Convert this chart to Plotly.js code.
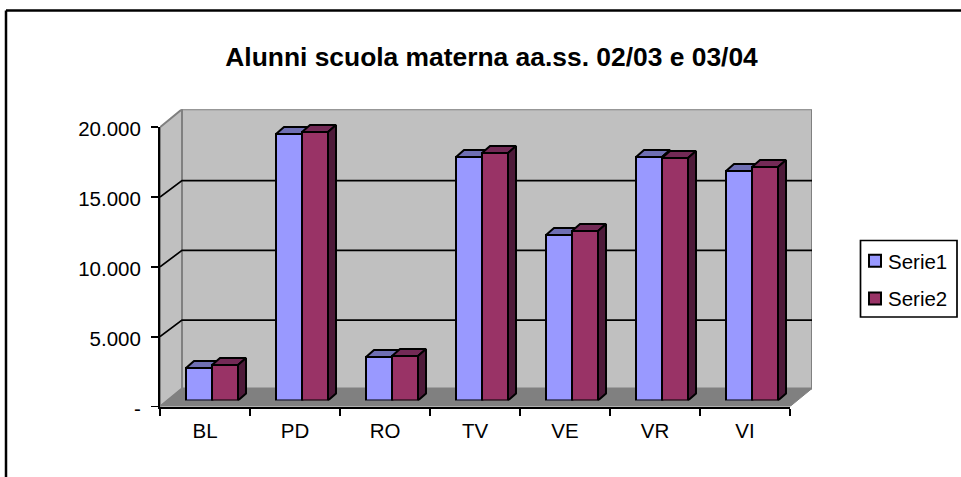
<!DOCTYPE html>
<html><head><meta charset="utf-8">
<script src="https://cdn.plot.ly/plotly-3.0.1.min.js"></script>
<style>html,body{margin:0;padding:0;background:#fff;overflow:hidden}</style>
</head><body><div id="chart" style="width:961px;height:477px"></div>
<script>
const categories = ['BL','PD','RO','TV','VE','VR','VI'];
const serie1 = [2330,19080,3115,17440,11850,17440,16430];
const serie2 = [2540,19230,3190,17720,12140,17360,16720];
const yTickVals = [0,5000,10000,15000,20000];
const yTickText = ['-','5.000','10.000','15.000','20.000'];
const titleText = 'Alunni scuola materna aa.ss. 02/03 e 03/04';

const W=961,H=477;
const L=160,R=790,T=127.2,B=406.5;
const wallDX=22,wallDY=18,gridDY=16.5;
const barDX=7,barDY=6,depthDX=8,depthDY=7;
const barPx=26;
const catPx=(R-L)/7, valPx=(B-T)/20000;
const FONT='Liberation Sans, Arial, sans-serif';
const px=(a,b)=>[a/W,b/W], py=(top,bot)=>[1-bot/H,1-top/H];

const traces=[];
const dx=wallDX/catPx, dy=wallDY/valPx, gdy=gridDY/valPx;
const poly=(xs,ys,fill,line,w)=>({type:'scatter',x:xs,y:ys,mode:'lines',fill:'toself',fillcolor:fill,
  line:{color:line,width:w},hoverinfo:'skip',showlegend:false,xaxis:'x',yaxis:'y',cliponaxis:false});
traces.push(poly([dx,7+dx,7+dx,dx,dx],[dy,dy,20000+dy,20000+dy,dy],'#C0C0C0','#808080',2));
traces.push(poly([0,dx,dx,0,0],[0,dy,20000+dy,20000,0],'#C0C0C0','#808080',2));
traces.push(poly([0,7,7+dx,dx,0],[0,0,dy,dy,0],'#808080','#808080',1));
[5000,10000,15000].forEach(v=>traces.push({type:'scatter',x:[0,dx,7+dx],y:[v,v+gdy,v+gdy],mode:'lines',
  line:{color:'#000',width:1.7},hoverinfo:'skip',showlegend:false,xaxis:'x',yaxis:'y',cliponaxis:false}));

traces.push({type:'scatter',x:categories,y:serie1,mode:'none',hoverinfo:'skip',showlegend:false,xaxis:'x2',yaxis:'y2'});

const bw=barPx/catPx, ddx=depthDX/catPx, ddy=depthDY/valPx;
const face=(xs,ys,c)=>({type:'scatter',x:xs,y:ys,mode:'lines',fill:'toself',fillcolor:c,
  line:{color:'#000',width:2},hoverinfo:'skip',showlegend:false,xaxis:'x3',yaxis:'y3',cliponaxis:false});
[[serie1,0,'#6F6FB3','#4B4B80'],[serie2,1,'#732A56','#4D1A39']].forEach(([vals,k,top,side])=>{
  vals.forEach((v,i)=>{
    const x0=i+0.5-bw+k*bw, x1=x0+bw;
    traces.push(face([x0,x1,x1+ddx,x0+ddx,x0],[v,v,v+ddy,v+ddy,v],top));
    traces.push(face([x1,x1+ddx,x1+ddx,x1,x1],[0,ddy,v+ddy,v,0],side));
  });
});

traces.push({type:'bar',name:'Serie1',legendgroup:'a',x:categories,y:serie1,marker:{color:'#9999FF',line:{color:'#000',width:2}},xaxis:'x4',yaxis:'y4'});
traces.push({type:'bar',name:'Serie2',legendgroup:'b',x:categories,y:serie2,marker:{color:'#993366',line:{color:'#000',width:2}},xaxis:'x4',yaxis:'y4'});

const hidden={visible:false,fixedrange:true};
const hx={...hidden,type:'linear',range:[0,7]};
const hy={...hidden,range:[0,20000]};
const AXF={family:FONT,size:20.5,color:'#000'};
const layout={
  width:W,height:H,margin:{l:0,r:0,t:0,b:0,pad:0},paper_bgcolor:'#fff',plot_bgcolor:'rgba(0,0,0,0)',
  font:{family:FONT,color:'#000',size:20.5},
  barmode:'group',bargap:1-2*barPx/catPx,bargroupgap:0,showlegend:true,
  title:{text:'<b>'+titleText+'</b>',font:{family:FONT,size:26.4,color:'#000'},x:491.5/W,xanchor:'center',y:1-57/H,yanchor:'middle'},
  xaxis:{...hx,anchor:'y',domain:px(L,R+wallDX),range:[0,7+dx]},
  yaxis:{...hy,anchor:'x',domain:py(T-wallDY,B),range:[0,20000+dy]},
  xaxis2:{anchor:'y2',domain:px(L,R),type:'category',categoryorder:'array',categoryarray:categories,range:[-0.5,6.5],
    tickson:'boundaries',ticks:'outside',ticklen:7,tickwidth:1.7,tickcolor:'#000',showline:true,linecolor:'#000',linewidth:2,
    showgrid:false,zeroline:false,fixedrange:true,tickfont:AXF,ticklabelstandoff:5},
  yaxis2:{anchor:'x2',domain:py(T,B),range:[0,20000],tickvals:yTickVals,ticktext:yTickText,ticks:'outside',ticklen:7,tickwidth:1.7,
    tickcolor:'#000',showline:true,linecolor:'#000',linewidth:2,showgrid:false,zeroline:false,fixedrange:true,
    tickfont:AXF,ticklabelstandoff:6},
  xaxis3:{...hx,anchor:'y3',domain:px(L+barDX,R+barDX)},
  yaxis3:{...hy,anchor:'x3',domain:py(T-barDY,B-barDY)},
  xaxis4:{...hidden,anchor:'y4',type:'category',categoryorder:'array',categoryarray:categories,range:[-0.5,6.5],domain:px(L+barDX,R+barDX)},
  yaxis4:{...hy,anchor:'x4',domain:py(T-barDY,B-barDY)},
  legend:{x:855/W,xanchor:'left',y:1-241/H,yanchor:'top',bgcolor:'rgba(0,0,0,0)',borderwidth:0,
    font:{family:FONT,size:20.5,color:'#000'},itemwidth:30,traceorder:'grouped',tracegroupgap:8},
  shapes:[
    {type:'line',xref:'paper',yref:'paper',x0:6/W,x1:6/W,y0:0,y1:1-10.5/H,line:{color:'#000',width:2.5}},
    {type:'line',xref:'paper',yref:'paper',x0:6/W,x1:1,y0:1-10.5/H,y1:1-10.5/H,line:{color:'#000',width:2.5}},
    {type:'rect',xref:'paper',yref:'paper',x0:860.5/W,x1:957/W,y0:1-317/H,y1:1-240.5/H,line:{color:'#000',width:1.7},fillcolor:'#fff',layer:'below'}
  ]
};
Plotly.newPlot('chart',traces,layout,{displayModeBar:false,staticPlot:true}).then(()=>{
  document.querySelectorAll('.legendtext').forEach(t=>t.setAttribute('x',+t.getAttribute('x')-7));
  document.querySelectorAll('.y2tick text').forEach(t=>t.setAttribute('y',+t.getAttribute('y')+2));
});
</script></body></html>
